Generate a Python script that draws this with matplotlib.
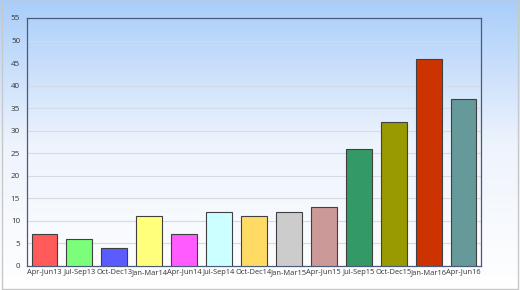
import numpy as np
import matplotlib
matplotlib.use("Agg")
import matplotlib.pyplot as plt
from matplotlib.colors import LinearSegmentedColormap

categorias = ["Apr-Jun13", "Jul-Sep13", "Oct-Dec13", "Jan-Mar14", "Apr-Jun14",
              "Jul-Sep14", "Oct-Dec14", "Jan-Mar15", "Apr-Jun15", "Jul-Sep15",
              "Oct-Dec15", "Jan-Mar16", "Apr-Jun16"]
valores = [7, 6, 4, 11, 7, 12, 11, 12, 13, 26, 32, 46, 37]
colores = ["#ff5b5b", "#7bff7b", "#5b5bff", "#ffff7b", "#ff5bff", "#ccffff",
           "#ffdb66", "#cccccc", "#cc9999", "#339966", "#999900", "#cc3300",
           "#669999"]

plt.rcParams["font.family"] = ["Open Sans", "DejaVu Sans"]

fig = plt.figure(figsize=(5.2, 2.9), dpi=100)

# fondo degradado
bg = fig.add_axes([0, 0, 1, 1], zorder=-10)
cmap = LinearSegmentedColormap.from_list("bg", ["#ffffff", "#eef4fd", "#a9cdfa"])
grad = np.linspace(0, 1, 256).reshape(-1, 1)
bg.imshow(grad, aspect="auto", cmap=cmap, origin="lower", extent=[0, 1, 0, 1])
bg.set_xlim(0, 1)
bg.set_ylim(0, 1)
bg.add_patch(plt.Rectangle((0.003, 0.005), 0.994, 0.99, fill=False,
                           edgecolor="#c8c8c8", lw=1))
bg.axis("off")

ax = fig.add_axes([27 / 520, 24 / 290, 454 / 520, 248 / 290])
ax.set_facecolor("none")
x = np.arange(len(categorias))
ax.bar(x, valores, width=0.74, color=colores, edgecolor="#404040",
       linewidth=0.8, zorder=3)
ax.set_xlim(-0.5, len(categorias) - 0.5)
ax.set_ylim(0, 55)
ax.set_yticks(range(0, 56, 5))
ax.set_xticks(x)
ax.set_xticklabels(categorias, fontsize=5.4)
ax.grid(axis="y", color="#d4dbe6", lw=0.8, zorder=0)
ax.tick_params(axis="both", length=0, colors="#333333", pad=2)
ax.tick_params(axis="y", labelsize=5.8, pad=5)
for s in ax.spines.values():
    s.set_color("#4a5a78")
    s.set_linewidth(0.9)

fig.savefig("out.png", dpi=100)
